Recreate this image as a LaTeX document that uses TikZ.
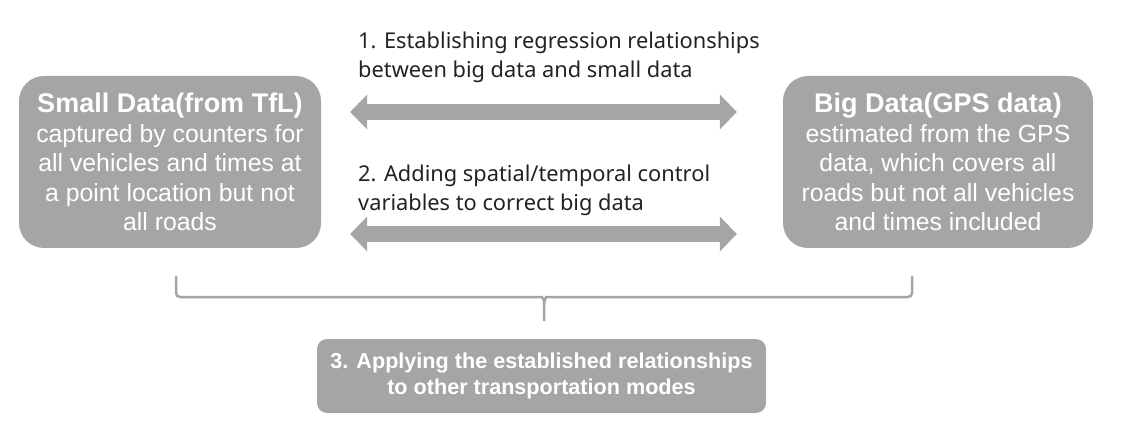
\documentclass[tikz,border=0pt]{standalone}
\usepackage{fontspec}
\setmainfont{Liberation Sans}
\newfontfamily\notefont{Noto Sans}
\usetikzlibrary{arrows.meta}
\definecolor{boxgray}{HTML}{A5A5A5}
\definecolor{notegray}{HTML}{222222}
\tikzset{
	databox/.style={fill=boxgray, rounded corners=25pt, minimum height=172pt, inner sep=0pt, text=white, align=center, font=\fontsize{24.8}{29.5}\selectfont},
	stepnote/.style={anchor=north west, inner sep=0pt, align=left, text=notegray, font=\notefont\fontsize{21.8}{28.8}\selectfont},
	bigarrow/.style={draw=boxgray, line width=16pt, {Triangle[length=17pt,width=34pt]}-{Triangle[length=17pt,width=34pt]}},
	bracket/.style={draw=boxgray, line width=2.5pt, rounded corners=4pt},
}

\begin{document}
\begin{tikzpicture}[x=1pt, y=-1pt]
			%%%%% START %%%%%
			\useasboundingbox (0, 0) rectangle (1124, 446);
			
			\node[databox, minimum width=302pt] (small) at (170, 162) {{\fontsize{27}{29.5}\selectfont\bfseries Small Data(from TfL)}\\captured by counters for\\all vehicles and times at\\a point location but not\\all roads};
			\node[databox, minimum width=310pt] (big) at (938, 162) {{\fontsize{27}{29.5}\selectfont\bfseries Big Data(GPS data)}\\estimated from the GPS\\data, which covers all\\roads but not all vehicles\\and times included};
			
			\node[stepnote] (regress) at (358, 32) {1. Establishing regression relationships\\between big data and small data};
			\node[stepnote] (control) at (358, 165) {2. Adding spatial/temporal control\\variables to correct big data};
			
			\coordinate (row1) at (0, 112);
			\coordinate (row2) at (0, 234);
			\draw[bigarrow, shorten <=29pt, shorten >=46pt] (small.east |- row1) -- (big.west |- row1);
			\draw[bigarrow, shorten <=29pt, shorten >=46pt] (small.east |- row2) -- (big.west |- row2);
			
			\draw[bracket] (176, 276) -- (176, 297) -- (538, 297) to[out=0, in=90] (544, 304) -- (544, 321);
			\draw[bracket] (912, 276) -- (912, 297) -- (550, 297) to[out=180, in=90] (544, 304);
			
			\node[fill=boxgray, rounded corners=10pt, minimum width=449pt, minimum height=74pt, inner sep=0pt, align=center, text=white, font=\bfseries\fontsize{21.6}{26}\selectfont] (apply) at (541.5, 376) {3. Applying the established relationships\\to other transportation modes};
			
			%%%%% END %%%%%
\end{tikzpicture}
\end{document}
